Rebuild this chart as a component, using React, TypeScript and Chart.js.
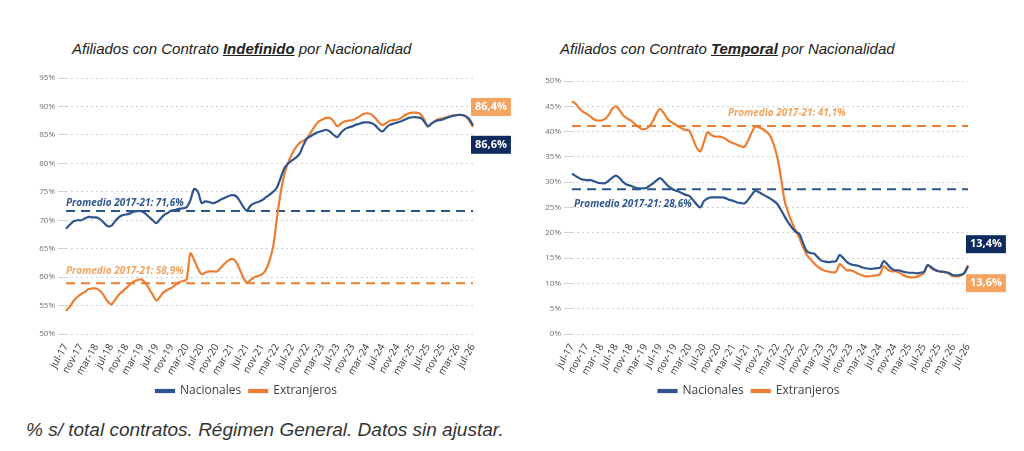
import React, { useEffect, useRef } from "react";
import { Chart, registerables } from "chart.js";
Chart.register(...registerables);

const MONTHS = ["jul", "ago", "sep", "oct", "nov", "dic", "ene", "feb", "mar", "abr", "may", "jun"];
const labels: string[] = [];
for (let i = 0; i <= 108; i++) {
  const m = (6 + i) % 12;
  const y = 17 + Math.floor((6 + i) / 12);
  labels.push(MONTHS[(m + 6) % 12] + "-" + y);
}

const indefNac = [
  68.5,69.2,69.8,70.0,70.0,70.3,70.6,70.5,70.5,70.2,69.6,69.0,
  69.0,69.8,70.5,70.9,71.0,71.2,71.5,71.6,71.6,71.2,70.6,70.0,
  69.5,70.2,70.9,71.3,71.7,71.8,72.0,72.1,72.3,73.5,75.5,75.0,
  73.0,73.3,73.2,73.0,73.2,73.6,73.9,74.2,74.4,74.3,73.5,72.4,
  71.7,72.6,73.0,73.2,73.5,74.0,74.5,75.0,75.8,77.5,79.2,80.0,
  80.5,81.0,81.7,83.2,84.4,84.8,85.2,85.5,85.7,85.9,85.6,85.0,
  84.6,85.4,86.0,86.3,86.5,86.8,87.0,87.2,87.2,87.1,86.7,86.0,
  85.6,86.3,86.8,87.0,87.2,87.4,87.7,88.0,88.1,88.1,88.0,87.4,
  86.5,87.0,87.4,87.6,87.7,88.0,88.2,88.4,88.5,88.5,88.3,87.8,
  86.6];
const indefExt = [
  54.1,54.8,55.8,56.5,57.0,57.4,57.9,58.0,58.0,57.6,56.8,55.8,
  55.2,56.0,56.9,57.5,58.1,58.7,59.2,59.5,59.6,59.0,58.0,56.9,
  55.9,56.6,57.4,57.8,58.1,58.6,59.1,59.3,59.6,64.2,63.0,61.5,
  60.5,60.8,61.0,61.0,61.0,61.6,62.3,62.9,63.2,62.8,61.5,60.0,
  59.0,59.5,60.0,60.2,60.5,61.2,62.9,65.5,70.5,75.0,78.2,80.2,
  81.7,82.8,83.6,84.0,84.4,85.5,86.5,87.3,87.7,88.0,88.0,87.4,
  86.5,87.0,87.4,87.5,87.6,87.9,88.3,88.7,88.8,88.6,88.0,87.2,
  86.7,87.1,87.5,87.6,87.7,88.0,88.5,88.8,88.9,88.9,88.7,87.8,
  86.5,87.0,87.5,87.8,87.9,88.1,88.3,88.4,88.5,88.5,88.3,87.5,
  86.4];
const tempNac = [
  31.7,31.2,30.8,30.5,30.4,30.4,30.2,29.9,29.8,29.8,30.3,30.9,
  31.3,30.8,30.0,29.5,29.3,29.0,28.8,28.8,28.8,29.2,29.7,30.3,
  30.8,30.2,29.4,28.8,28.4,28.2,27.8,27.5,27.3,26.5,25.6,25.0,
  26.3,26.8,27.0,27.0,27.0,27.0,26.8,26.5,26.3,26.0,25.9,25.8,
  26.5,27.5,28.3,28.0,27.6,27.2,26.8,26.3,25.7,24.5,23.2,22.0,
  21.0,20.2,19.8,18.0,16.4,16.0,15.9,15.2,14.5,14.3,14.2,14.3,
  14.4,15.6,15.0,14.2,13.8,13.6,13.5,13.2,13.0,12.9,12.9,13.0,
  13.1,14.4,13.8,13.0,12.6,12.6,12.4,12.2,12.1,12.1,12.0,12.1,
  12.3,13.6,13.2,12.7,12.4,12.3,12.2,12.0,11.6,11.6,11.7,12.0,
  13.4];
const tempExt = [
  46.0,45.5,44.6,43.9,43.5,43.0,42.4,42.2,42.2,42.5,43.3,44.5,
  45.0,44.2,43.2,42.6,42.2,41.6,41.0,40.5,40.5,41.0,42.0,43.5,
  44.5,43.7,42.6,41.9,41.5,41.0,40.6,40.3,40.2,38.5,36.8,36.1,
  38.0,39.9,39.3,39.0,39.0,38.9,38.5,38.0,37.7,37.4,37.1,37.0,
  38.2,39.8,41.0,40.8,40.5,40.0,39.2,37.5,34.9,30.8,26.3,24.0,
  22.0,20.5,19.0,17.2,15.7,14.8,14.0,13.3,12.8,12.5,12.3,12.2,
  12.3,13.8,13.2,12.6,12.6,12.3,11.9,11.6,11.4,11.4,11.5,11.6,
  11.8,13.4,12.8,12.4,12.4,12.2,11.8,11.4,11.2,11.2,11.3,11.6,
  12.1,13.6,13.0,12.6,12.4,12.3,12.2,11.8,11.4,11.4,11.5,12.2,
  13.6];
const avgIndef = { nac: 71.6, ext: 58.9 };
const avgTemp = { nac: 28.6, ext: 41.1 };
const endLabels = { indefNac: "86,6%", indefExt: "86,4%", tempNac: "13,4%", tempExt: "13,6%" };

const NAVY = "#2E5590";
const ORANGE = "#ED7D31";
const DARKNAVY = "#0F2A5E";
const LBLORANGE = "#F4A460";

type Cfg = {
  nac: number[]; ext: number[]; avgNac: number; avgExt: number;
  min: number; max: number; yw: number; padTop: number;
  nacText: { dx: number; dy: number }; extText: { dx: number; dy: number };
  nacBox: { dy: number; t: string }; extBox: { dy: number; t: string };
};

function fmt(v: number) { return "Promedio 2017-21: " + v.toFixed(1).replace(".", ",") + "%"; }

function makeChart(canvas: HTMLCanvasElement, c: Cfg) {
  const flat = (v: number) => labels.map(() => v);
  const plugin = {
    id: "ann",
    afterDatasetsDraw(chart: any) {
      const ctx = chart.ctx;
      const xs = chart.scales.x, ys = chart.scales.y;
      ctx.save();
      ctx.font = "italic bold 10px 'Open Sans', sans-serif";
      ctx.textBaseline = "middle";
      ctx.fillStyle = NAVY;
      ctx.fillText(fmt(c.avgNac), xs.left + c.nacText.dx, ys.getPixelForValue(c.avgNac) + c.nacText.dy);
      ctx.fillStyle = LBLORANGE;
      ctx.fillText(fmt(c.avgExt), xs.left + c.extText.dx, ys.getPixelForValue(c.avgExt) + c.extText.dy);
      const lx = xs.getPixelForValue(108);
      const box = (t: string, y: number, bg: string) => {
        ctx.font = "bold 11px 'Open Sans', sans-serif";
        const w = ctx.measureText(t).width + 8;
        ctx.fillStyle = bg;
        ctx.fillRect(lx - 2, y - 9, w, 18);
        ctx.fillStyle = "#fff";
        ctx.textAlign = "left";
        ctx.fillText(t, lx + 2, y);
      };
      box(c.nacBox.t, ys.getPixelForValue(c.nac[108]) + c.nacBox.dy, DARKNAVY);
      box(c.extBox.t, ys.getPixelForValue(c.ext[108]) + c.extBox.dy, LBLORANGE);
      ctx.restore();
    },
  };
  return new Chart(canvas, {
    type: "line",
    data: {
      labels,
      datasets: [
        { label: "Nacionales", data: c.nac, borderColor: NAVY, backgroundColor: NAVY, borderWidth: 2.2, pointRadius: 0, tension: 0.3 },
        { label: "Extranjeros", data: c.ext, borderColor: ORANGE, backgroundColor: ORANGE, borderWidth: 2.2, pointRadius: 0, tension: 0.3 },
        { label: "avgN", data: flat(c.avgNac), borderColor: NAVY, borderWidth: 2, borderDash: [9, 6], pointRadius: 0 },
        { label: "avgE", data: flat(c.avgExt), borderColor: ORANGE, borderWidth: 2, borderDash: [9, 6], pointRadius: 0 },
      ],
    },
    options: {
      responsive: false, animation: false,
      layout: { padding: { top: c.padTop, right: 42, left: 0, bottom: 0 } },
      plugins: {
        tooltip: { enabled: false },
        legend: {
          position: "bottom",
          labels: {
            filter: (it: any) => it.text === "Nacionales" || it.text === "Extranjeros",
            boxWidth: 18, boxHeight: 2, color: "#404040", padding: 8,
            font: { size: 12, family: "'Open Sans', sans-serif" },
          },
        },
      },
      scales: {
        x: {
          grid: { display: false }, border: { display: false },
          ticks: {
            autoSkip: false, maxRotation: 60, minRotation: 60, color: "#333", padding: 0,
            font: { size: 10, family: "'Open Sans', sans-serif" },
            callback: (_v: any, i: number) => (i % 4 === 0 ? labels[i] : ""),
          },
          afterFit: (s: any) => { s.height = 43; },
        },
        y: {
          min: c.min, max: c.max,
          grid: { color: "#d0d0d0" },
          border: { display: false, dash: [2, 3] },
          ticks: { stepSize: 5, color: "#707070", font: { size: 8, family: "'Open Sans', sans-serif" }, callback: (v: any) => v + "%" },
          afterFit: (s: any) => { s.width = c.yw; },
        },
      },
    },
    plugins: [plugin],
  });
}

export default function App() {
  const r1 = useRef<HTMLCanvasElement>(null);
  const r2 = useRef<HTMLCanvasElement>(null);
  useEffect(() => {
    const a = makeChart(r1.current!, {
      nac: indefNac, ext: indefExt, avgNac: avgIndef.nac, avgExt: avgIndef.ext,
      min: 50, max: 95, yw: 46, padTop: 10,
      nacText: { dx: 0, dy: -8 }, extText: { dx: 0, dy: -12 },
      nacBox: { dy: 19, t: endLabels.indefNac }, extBox: { dy: -20, t: endLabels.indefExt },
    });
    const b = makeChart(r2.current!, {
      nac: tempNac, ext: tempExt, avgNac: avgTemp.nac, avgExt: avgTemp.ext,
      min: 0, max: 50, yw: 42, padTop: 13,
      nacText: { dx: 2, dy: 15 }, extText: { dx: 156, dy: -13 },
      nacBox: { dy: -22, t: endLabels.tempNac }, extBox: { dy: 18, t: endLabels.tempExt },
    });
    return () => { a.destroy(); b.destroy(); };
  }, []);
  const title: React.CSSProperties = { position: "absolute", top: 40, fontStyle: "italic", fontSize: 15, color: "#222", fontFamily: "'Liberation Sans', Arial, sans-serif" };
  return (
    <div style={{ position: "fixed", left: 0, top: 0, width: 1024, height: 451, background: "#fff" }}>
      <div style={{ ...title, left: 72 }}>Afiliados con Contrato <b><u>Indefinido</u></b> por Nacionalidad</div>
      <div style={{ ...title, left: 560 }}>Afiliados con Contrato <b><u>Temporal</u></b> por Nacionalidad</div>
      <canvas ref={r1} width={495} height={339} style={{ position: "absolute", left: 20, top: 68 }} />
      <canvas ref={r2} width={480} height={339} style={{ position: "absolute", left: 530, top: 68 }} />
      <div style={{ position: "absolute", left: 26, top: 419, fontStyle: "italic", fontSize: 19, color: "#333", fontFamily: "'Liberation Sans', Arial, sans-serif" }}>
        % s/ total contratos. Régimen General. Datos sin ajustar.
      </div>
    </div>
  );
}
